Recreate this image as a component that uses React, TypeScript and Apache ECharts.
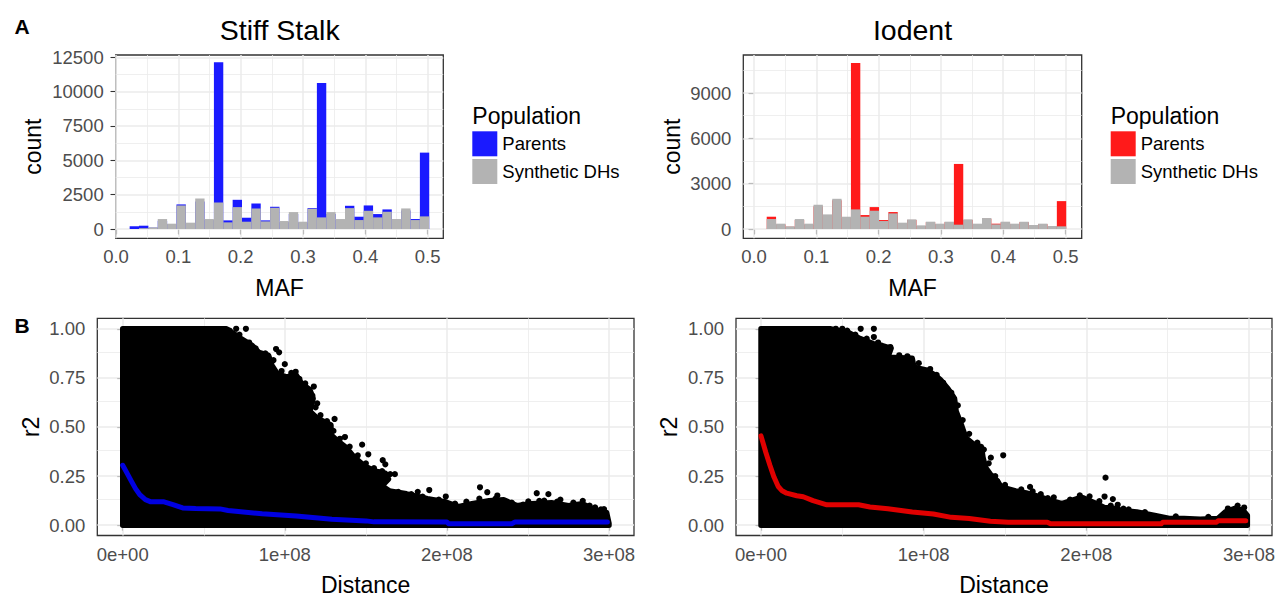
import React, { useEffect, useRef } from "react";
import * as echarts from "echarts";

const FONT = "'Liberation Sans', Arial, Helvetica, sans-serif";
const BLUE = "#1a1aff";
const RED = "#ff1a1a";
const GREY = "#b3b3b3";
const SMOOTH_BLUE = "#0000e0";
const SMOOTH_RED = "#e00000";

// ---------- Histogram data (MAF bins) ----------
const BIN_WIDTH = 0.01502;
const SS_BIN_START = 0.0219;
const IOD_BIN_START = 0.0204;
const ssParents = [200, 240, 100, 600, 350, 1790, 420, 2000, 650, 12140, 628, 2125, 821, 1860, 628, 1618, 500, 1100, 480, 1521, 10630, 1100, 650, 1690, 894, 1715, 1087, 1425, 650, 1350, 725, 5560];
const ssDHs = [0, 60, 120, 725, 386, 1715, 460, 2220, 725, 1930, 483, 1594, 531, 1497, 555, 1545, 580, 1232, 531, 1473, 845, 1232, 725, 1521, 652, 1328, 845, 1256, 725, 1497, 652, 918];
const iodParents = [813, 300, 150, 600, 300, 1500, 900, 1900, 750, 10990, 923, 1450, 593, 1121, 380, 600, 200, 450, 320, 450, 4306, 600, 320, 680, 352, 450, 320, 450, 240, 320, 180, 1846];
const iodDHs = [660, 352, 176, 660, 352, 1605, 967, 2000, 813, 1297, 813, 1209, 527, 1033, 418, 637, 242, 484, 352, 484, 286, 637, 352, 725, 308, 484, 352, 484, 264, 352, 198, 176];

// ---------- Tick values ----------
const MAF_TICKS = [0, 0.1, 0.2, 0.3, 0.4, 0.5];
const MAF_MINOR = [0.05, 0.15, 0.25, 0.35, 0.45];
const SS_COUNT_TICKS = [0, 2500, 5000, 7500, 10000, 12500];
const SS_COUNT_MINOR = [1250, 3750, 6250, 8750, 11250];
const IOD_COUNT_TICKS = [0, 3000, 6000, 9000];
const IOD_COUNT_MINOR = [1500, 4500, 7500, 10500];
const DIST_TICKS = [0, 1e8, 2e8, 3e8];
const DIST_MINOR = [0.5e8, 1.5e8, 2.5e8];
const R2_TICKS = [0, 0.25, 0.5, 0.75, 1];
const R2_MINOR = [0.125, 0.375, 0.625, 0.875];

// ---------- LD decay: outline of the dense point cloud (Distance, r2) ----------
const ssCloud = [
  [0, 0], [0, 1.0], [0.64e8, 1.0], [0.73e8, 0.95], [0.8e8, 0.915], [0.84e8, 0.88], [0.9e8, 0.865],
  [0.92e8, 0.815], [0.955e8, 0.77], [1.01e8, 0.755], [1.07e8, 0.765], [1.105e8, 0.72], [1.155e8, 0.69],
  [1.175e8, 0.645], [1.155e8, 0.58], [1.2e8, 0.545], [1.285e8, 0.51], [1.285e8, 0.46], [1.325e8, 0.43],
  [1.38e8, 0.395], [1.43e8, 0.345], [1.495e8, 0.3], [1.56e8, 0.275], [1.62e8, 0.265], [1.64e8, 0.235],
  [1.6e8, 0.2], [1.645e8, 0.175], [1.75e8, 0.16], [1.88e8, 0.135], [1.985e8, 0.12], [2.07e8, 0.095],
  [2.155e8, 0.11], [2.26e8, 0.125], [2.35e8, 0.13], [2.43e8, 0.1], [2.52e8, 0.11], [2.645e8, 0.115],
  [2.75e8, 0.1], [2.835e8, 0.11], [2.92e8, 0.075], [2.985e8, 0.065], [3.0e8, 0.01], [3.0e8, 0], [0, 0],
];
const ssOutliers = [
  [0.66e8, 0.99], [0.7e8, 1.0], [0.72e8, 0.97], [0.76e8, 1.0], [0.78e8, 0.93], [0.82e8, 0.9],
  [0.88e8, 0.875], [0.93e8, 0.84], [0.946e8, 0.897], [0.965e8, 0.88], [0.98e8, 0.785], [1.0e8, 0.82],
  [1.04e8, 0.775], [1.067e8, 0.781], [1.09e8, 0.745], [1.126e8, 0.722], [1.14e8, 0.685], [1.179e8, 0.706],
  [1.17e8, 0.66], [1.19e8, 0.6], [1.2e8, 0.62], [1.22e8, 0.56], [1.26e8, 0.53], [1.307e8, 0.541],
  [1.3e8, 0.48], [1.34e8, 0.44], [1.371e8, 0.449], [1.4e8, 0.4], [1.45e8, 0.355], [1.477e8, 0.41],
  [1.5e8, 0.315], [1.515e8, 0.361], [1.55e8, 0.29], [1.6e8, 0.275], [1.604e8, 0.331], [1.62e8, 0.31],
  [1.65e8, 0.26], [1.679e8, 0.26], [1.6e8, 0.2], [1.7e8, 0.17], [1.78e8, 0.158], [1.82e8, 0.17],
  [1.85e8, 0.145], [1.891e8, 0.179], [1.95e8, 0.13], [1.993e8, 0.146], [2.05e8, 0.11], [2.12e8, 0.12],
  [2.2e8, 0.135], [2.204e8, 0.193], [2.249e8, 0.168], [2.3e8, 0.135], [2.311e8, 0.151], [2.4e8, 0.115],
  [2.47e8, 0.105], [2.502e8, 0.121], [2.554e8, 0.163], [2.57e8, 0.124], [2.6e8, 0.125], [2.626e8, 0.158],
  [2.68e8, 0.12], [2.7e8, 0.13], [2.78e8, 0.115], [2.838e8, 0.124], [2.88e8, 0.1], [2.914e8, 0.091],
  [2.95e8, 0.08], [2.969e8, 0.082],
];
const ssSmooth = [
  [0, 0.305], [0.03e8, 0.26], [0.055e8, 0.222], [0.08e8, 0.185], [0.107e8, 0.154], [0.14e8, 0.13],
  [0.17e8, 0.12], [0.25e8, 0.12], [0.31e8, 0.105], [0.37e8, 0.088], [0.45e8, 0.085], [0.6e8, 0.083],
  [0.65e8, 0.075], [0.86e8, 0.058], [1.07e8, 0.047], [1.29e8, 0.03], [1.5e8, 0.022], [1.55e8, 0.017],
  [2.0e8, 0.016], [2.01e8, 0.008], [2.4e8, 0.008], [2.42e8, 0.016], [2.99e8, 0.016],
];

const iodCloud = [
  [0, 0], [0, 1.0], [0.43e8, 1.0], [0.54e8, 0.98], [0.61e8, 0.95], [0.69e8, 0.925], [0.745e8, 0.915],
  [0.8e8, 0.9], [0.78e8, 0.855], [0.93e8, 0.85], [0.94e8, 0.805], [1.02e8, 0.79], [1.06e8, 0.77],
  [1.105e8, 0.74], [1.15e8, 0.695], [1.19e8, 0.645], [1.2e8, 0.58], [1.235e8, 0.505], [1.26e8, 0.445],
  [1.31e8, 0.41], [1.355e8, 0.4], [1.365e8, 0.345], [1.38e8, 0.295], [1.41e8, 0.26], [1.455e8, 0.225],
  [1.475e8, 0.195], [1.565e8, 0.175], [1.63e8, 0.165], [1.695e8, 0.15], [1.785e8, 0.125], [1.85e8, 0.11],
  [1.94e8, 0.135], [1.98e8, 0.14], [2.05e8, 0.115], [2.11e8, 0.09], [2.18e8, 0.085], [2.22e8, 0.075],
  [2.31e8, 0.068], [2.42e8, 0.05], [2.51e8, 0.035], [2.6e8, 0.035], [2.7e8, 0.03], [2.81e8, 0.035],
  [2.855e8, 0.068], [2.91e8, 0.085], [2.965e8, 0.075], [2.99e8, 0.05], [2.99e8, 0], [0, 0],
];
const iodOutliers = [
  [0.46e8, 1.0], [0.5e8, 1.0], [0.53e8, 0.99], [0.58e8, 0.97], [0.613e8, 1.0], [0.65e8, 0.95],
  [0.694e8, 1.0], [0.694e8, 0.958], [0.72e8, 0.93], [0.77e8, 0.9], [0.795e8, 0.907], [0.85e8, 0.865],
  [0.9e8, 0.86], [0.97e8, 0.825], [1.04e8, 0.795], [1.08e8, 0.765], [1.12e8, 0.725], [1.17e8, 0.675],
  [1.21e8, 0.61], [1.24e8, 0.535], [1.28e8, 0.465], [1.33e8, 0.42], [1.37e8, 0.385], [1.4e8, 0.315],
  [1.413e8, 0.344], [1.44e8, 0.25], [1.489e8, 0.356], [1.5e8, 0.205], [1.6e8, 0.182], [1.654e8, 0.195],
  [1.67e8, 0.172], [1.72e8, 0.158], [1.763e8, 0.138], [1.8e8, 0.142], [1.9e8, 0.13], [1.96e8, 0.152],
  [2.02e8, 0.147], [2.08e8, 0.122], [2.112e8, 0.146], [2.118e8, 0.242], [2.15e8, 0.1], [2.163e8, 0.133],
  [2.193e8, 0.104], [2.228e8, 0.084], [2.26e8, 0.08], [2.36e8, 0.066], [2.55e8, 0.045], [2.75e8, 0.042],
  [2.87e8, 0.085], [2.93e8, 0.1], [2.97e8, 0.09],
];
const iodSmooth = [
  [0, 0.455], [0.03e8, 0.37], [0.055e8, 0.305], [0.08e8, 0.245], [0.106e8, 0.197], [0.13e8, 0.175],
  [0.158e8, 0.163], [0.22e8, 0.15], [0.26e8, 0.145], [0.32e8, 0.125], [0.405e8, 0.104], [0.6e8, 0.104],
  [0.67e8, 0.093], [0.78e8, 0.084], [0.93e8, 0.067], [1.06e8, 0.057], [1.17e8, 0.04], [1.28e8, 0.034],
  [1.41e8, 0.02], [1.52e8, 0.015], [1.76e8, 0.015], [1.78e8, 0.007], [2.46e8, 0.007], [2.47e8, 0.015],
  [2.8e8, 0.015], [2.81e8, 0.023], [2.98e8, 0.023],
];

const TICK_COLOR = "#333333";
const LABEL_COLOR = "#4d4d4d";

function histSeries(name: string, counts: number[], start: number, color: string, idx: number, z: number) {
  return {
    type: "custom",
    name,
    xAxisIndex: idx,
    yAxisIndex: idx,
    z,
    silent: true,
    itemStyle: { color },
    data: counts.map((c, i) => [start + i * BIN_WIDTH, start + (i + 1) * BIN_WIDTH, c]),
    encode: { x: [0, 1], y: 2 },
    renderItem: (_params: any, api: any) => {
      const p0 = api.coord([api.value(0), api.value(2)]);
      const p1 = api.coord([api.value(1), 0]);
      return {
        type: "rect",
        shape: { x: p0[0], y: p0[1], width: p1[0] - p0[0], height: p1[1] - p0[1] },
        style: { fill: color },
      };
    },
  };
}

function gridLines(idx: number, xMajor: number[], xMinor: number[], yMajor: number[], yMinor: number[]) {
  const major = { color: "#ebebeb", width: 1.5, type: "solid" };
  const minor = { color: "#ebebeb", width: 0.8, type: "solid" };
  return {
    type: "line",
    xAxisIndex: idx,
    yAxisIndex: idx,
    z: 1,
    silent: true,
    symbol: "none",
    data: [],
    markLine: {
      silent: true,
      z: 1,
      symbol: ["none", "none"],
      label: { show: false },
      emphasis: { disabled: true },
      animation: false,
      data: [
        ...xMinor.map((v) => ({ xAxis: v, lineStyle: minor })),
        ...yMinor.map((v) => ({ yAxis: v, lineStyle: minor })),
        ...xMajor.map((v) => ({ xAxis: v, lineStyle: major })),
        ...yMajor.map((v) => ({ yAxis: v, lineStyle: major })),
      ],
    },
  };
}

function valueAxis(
  gridIndex: number,
  min: number,
  max: number,
  ticks: number[],
  formatter: (v: number) => string,
  name: string,
  nameGap: number,
  labelMargin: number
) {
  return {
    type: "value",
    gridIndex,
    min,
    max,
    axisLine: { show: false },
    splitLine: { show: false },
    axisTick: { show: true, length: 5.5, customValues: ticks, lineStyle: { color: TICK_COLOR, width: 1.1 } },
    axisLabel: {
      customValues: ticks,
      formatter: (v: number) => formatter(v),
      color: LABEL_COLOR,
      fontSize: 18.5,
      fontFamily: FONT,
      margin: labelMargin,
    },
    name,
    nameLocation: "middle",
    nameGap,
    nameTextStyle: { fontSize: 23, color: "#000", fontFamily: FONT },
  };
}

const fmtMaf = (v: number) => v.toFixed(1);
const fmtCount = (v: number) => String(Math.round(v));
const fmtR2 = (v: number) => v.toFixed(2);
const fmtDist = (v: number) => {
  const s = v.toExponential(0);
  const [m, e] = s.split("e");
  const sign = e[0] === "-" ? "-" : "+";
  const digits = e.replace(/[+-]/, "").padStart(2, "0");
  return `${m}e${sign}${digits}`;
};

function cloudSeries(idx: number, cloud: number[][]) {
  return {
    type: "line",
    xAxisIndex: idx,
    yAxisIndex: idx,
    z: 3,
    silent: true,
    symbol: "none",
    smooth: false,
    data: cloud,
    lineStyle: { color: "#000", width: 5.4, join: "round", cap: "round" },
    areaStyle: { color: "#000", opacity: 1 },
  };
}

function dotsSeries(idx: number, pts: number[][]) {
  return {
    type: "scatter",
    xAxisIndex: idx,
    yAxisIndex: idx,
    z: 4,
    silent: true,
    symbol: "circle",
    symbolSize: 6.2,
    itemStyle: { color: "#000", opacity: 1 },
    data: pts,
  };
}

function smoothSeries(idx: number, pts: number[][], color: string) {
  return {
    type: "line",
    xAxisIndex: idx,
    yAxisIndex: idx,
    z: 5,
    silent: true,
    symbol: "none",
    smooth: false,
    data: pts,
    lineStyle: { color, width: 5, join: "round", cap: "round" },
  };
}

function legendFor(left: number, parentsColor: string) {
  return {
    left,
    top: 131.3,
    orient: "vertical",
    padding: 0,
    itemWidth: 25,
    itemHeight: 25,
    itemGap: 2.7,
    icon: "rect",
    selectedMode: false,
    textStyle: { fontSize: 18.5, color: "#000", fontFamily: FONT },
    data: [
      { name: "Parents", itemStyle: { color: parentsColor, borderWidth: 0 } },
      { name: "Synthetic DHs", itemStyle: { color: GREY, borderWidth: 0 } },
    ],
  };
}

function textEl(text: string, x: number, y: number, size: number, align: string, bold = false) {
  return {
    type: "text",
    x,
    y,
    silent: true,
    style: {
      text,
      fill: "#000",
      font: `${bold ? "bold " : ""}${size}px ${FONT}`,
      textAlign: align,
      textVerticalAlign: "middle",
    },
  };
}

export default function App() {
  const ref = useRef<HTMLDivElement>(null);

  useEffect(() => {
    if (!ref.current) return;
    const chart = echarts.init(ref.current, undefined, { renderer: "svg" });
    const gridBase = { show: true, backgroundColor: "#ffffff", borderColor: "#333333", borderWidth: 1.3, containLabel: false };
    const option: any = {
      animation: false,
      backgroundColor: "#ffffff",
      grid: [
        { ...gridBase, left: 115.7, top: 55, width: 327.6, height: 183.3 },
        { ...gridBase, left: 743.3, top: 55, width: 338.4, height: 183.3 },
        { ...gridBase, left: 97.3, top: 318.3, width: 536.7, height: 219.4 },
        { ...gridBase, left: 736, top: 318.3, width: 536.7, height: 219.4 },
      ],
      xAxis: [
        valueAxis(0, -0.0005, 0.5251, MAF_TICKS, fmtMaf, "MAF", 38, 9),
        valueAxis(1, -0.01717, 0.5259, MAF_TICKS, fmtMaf, "MAF", 38, 9),
        valueAxis(2, -0.1567e8, 3.154e8, DIST_TICKS, fmtDist, "Distance", 37.5, 9),
        valueAxis(3, -0.1535e8, 3.1412e8, DIST_TICKS, fmtDist, "Distance", 37.5, 9),
      ],
      yAxis: [
        valueAxis(0, -677, 12667, SS_COUNT_TICKS, fmtCount, "count", 71, 12),
        valueAxis(1, -615, 11515, IOD_COUNT_TICKS, fmtCount, "count", 60, 12),
        valueAxis(2, -0.0524, 1.0534, R2_TICKS, fmtR2, "r2", 55, 12),
        valueAxis(3, -0.0524, 1.0534, R2_TICKS, fmtR2, "r2", 56, 12),
      ],
      legend: [legendFor(472.3, BLUE), legendFor(1110.7, RED)],
      graphic: [
        textEl("A", 22, 26, 21, "center", true),
        textEl("B", 22, 325, 21, "center", true),
        textEl("Stiff Stalk", 279.7, 30, 28.5, "center"),
        textEl("Iodent", 912.5, 30, 28.5, "center"),
        textEl("Population", 472.3, 115.5, 23, "left"),
        textEl("Population", 1110.7, 115.5, 23, "left"),
      ],
      series: [
        gridLines(0, MAF_TICKS, MAF_MINOR, SS_COUNT_TICKS, SS_COUNT_MINOR),
        gridLines(1, MAF_TICKS, MAF_MINOR, IOD_COUNT_TICKS, IOD_COUNT_MINOR),
        gridLines(2, DIST_TICKS, DIST_MINOR, R2_TICKS, R2_MINOR),
        gridLines(3, DIST_TICKS, DIST_MINOR, R2_TICKS, R2_MINOR),
        histSeries("Parents", ssParents, SS_BIN_START, BLUE, 0, 3),
        histSeries("Synthetic DHs", ssDHs, SS_BIN_START, GREY, 0, 4),
        histSeries("Parents", iodParents, IOD_BIN_START, RED, 1, 3),
        histSeries("Synthetic DHs", iodDHs, IOD_BIN_START, GREY, 1, 4),
        cloudSeries(2, ssCloud),
        dotsSeries(2, ssOutliers),
        smoothSeries(2, ssSmooth, SMOOTH_BLUE),
        cloudSeries(3, iodCloud),
        dotsSeries(3, iodOutliers),
        smoothSeries(3, iodSmooth, SMOOTH_RED),
      ],
    };
    chart.setOption(option);
    return () => chart.dispose();
  }, []);

  return (
    <div
      ref={ref}
      style={{ position: "fixed", left: 0, top: 0, width: 1278, height: 597, background: "#fff" }}
    />
  );
}
